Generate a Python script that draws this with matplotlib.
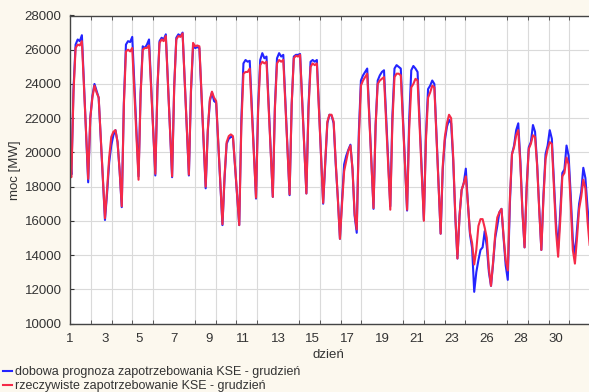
import numpy as np
import matplotlib.pyplot as plt

plt.rcParams['font.family'] = ['Liberation Sans', 'DejaVu Sans']

# godziny pomiarow w ciagu doby (co 3 h)
godziny = [2, 5, 8, 11, 14, 17, 20, 23]

prognoza_start = 19900
rzeczywiste_start = 18700

# dobowa prognoza zapotrzebowania KSE [MW], kolejne dni grudnia
prognoza = [
    [18700, 23700, 26300, 26600, 26500, 26850, 24000, 21100],
    [18250, 22000, 23300, 24000, 23600, 23200, 20800, 18450],
    [16050, 17600, 19400, 20400, 21000, 21300, 20600, 18900],
    [16800, 22900, 26300, 26500, 26450, 26750, 24000, 21300],
    [18600, 23500, 26200, 26100, 26300, 26600, 23950, 21300],
    [18650, 23750, 26500, 26700, 26600, 26900, 24100, 21300],
    [18550, 23850, 26700, 26900, 26800, 27000, 24200, 21400],
    [18650, 23550, 26200, 26100, 26150, 26100, 23350, 20650],
    [17900, 21200, 23000, 23500, 23000, 22900, 20500, 18100],
    [15750, 18500, 20500, 20800, 20900, 20900, 19200, 17450],
    [15750, 21900, 25200, 25400, 25300, 25350, 22650, 20000],
    [17300, 22700, 25400, 25800, 25500, 25600, 22850, 20150],
    [17400, 22700, 25500, 25800, 25600, 25700, 22950, 20250],
    [17500, 22800, 25600, 25700, 25700, 25750, 23050, 20300],
    [17600, 22650, 25300, 25400, 25300, 25400, 22600, 19800],
    [17000, 19400, 21700, 22200, 22150, 21700, 19300, 17300],
    [14950, 17200, 19300, 19800, 20150, 20450, 19000, 16300],
    [15300, 21150, 24200, 24500, 24700, 24900, 22150, 19450],
    [16700, 21600, 24200, 24500, 24700, 24800, 22150, 19500],
    [16850, 22100, 24900, 25100, 25000, 24900, 22150, 19350],
    [16600, 21900, 24800, 25050, 24900, 24700, 21800, 18950],
    [16050, 21000, 23700, 23900, 24200, 24000, 21100, 18150],
    [15250, 19000, 20700, 21500, 21900, 21700, 19500, 16200],
    [13800, 16300, 17800, 18200, 19050, 17000, 15200, 14400],
    [11850, 13000, 13700, 14300, 14450, 15400, 14500, 13000],
    [12200, 13500, 15000, 15700, 16500, 16700, 15000, 13400],
    [12550, 17000, 19900, 20400, 21300, 21700, 19500, 16500],
    [14450, 18000, 20300, 20600, 21600, 21200, 19300, 16700],
    [14300, 17500, 19900, 20400, 21300, 20800, 18300, 15800],
    [14400, 16500, 18800, 19000, 20400, 19800, 17500, 14900],
    [13900, 15500, 17000, 17700, 19100, 18500, 16800, 15500],
]

# rzeczywiste zapotrzebowanie KSE [MW]
rzeczywiste = [
    [18550, 23500, 26100, 26300, 26250, 26500, 23800, 21150],
    [18450, 22000, 23200, 23900, 23500, 23200, 20850, 18500],
    [16150, 17800, 19700, 20900, 21200, 21300, 20600, 18900],
    [16850, 22750, 25900, 26000, 25900, 26100, 23550, 20950],
    [18400, 23400, 26000, 26100, 26100, 26250, 23750, 21250],
    [18750, 23700, 26400, 26600, 26500, 26800, 24050, 21350],
    [18600, 23800, 26600, 26800, 26750, 26950, 24200, 21450],
    [18700, 23700, 26400, 26200, 26250, 26200, 23450, 20750],
    [18000, 21300, 23100, 23550, 23200, 23000, 20600, 18200],
    [15800, 18600, 20600, 20950, 21050, 20950, 19200, 17500],
    [15750, 21550, 24600, 24700, 24700, 24900, 22400, 19850],
    [17350, 22450, 25100, 25300, 25200, 25300, 22650, 20050],
    [17400, 22550, 25200, 25400, 25300, 25400, 22800, 20150],
    [17550, 22800, 25500, 25650, 25600, 25700, 23000, 20300],
    [17600, 22500, 25000, 25200, 25100, 25200, 22500, 19750],
    [17050, 19500, 21800, 22200, 22200, 21800, 19400, 17300],
    [14950, 17000, 18900, 19500, 20100, 20400, 19000, 16400],
    [15500, 20750, 23900, 24200, 24400, 24600, 22000, 19350],
    [16750, 21550, 24000, 24200, 24300, 24400, 21800, 19250],
    [16650, 21750, 24400, 24600, 24600, 24500, 21900, 19250],
    [16650, 21350, 23800, 24000, 24300, 24200, 21450, 18750],
    [16000, 20750, 23200, 23500, 23900, 23800, 20950, 18100],
    [15250, 19200, 20900, 21700, 22200, 22000, 19700, 16300],
    [13800, 16300, 17800, 18200, 18600, 17000, 15300, 14700],
    [13450, 14300, 15700, 16100, 16100, 15600, 15000, 13200],
    [12200, 13600, 15200, 16200, 16500, 16700, 15100, 13700],
    [13100, 17300, 19900, 20300, 21000, 21300, 19300, 16500],
    [14450, 17900, 20200, 20500, 21000, 20900, 19200, 16600],
    [14300, 17300, 19600, 20200, 20600, 20500, 18000, 15400],
    [13900, 16000, 18600, 18800, 19700, 19300, 17000, 14300],
    [13500, 15000, 16700, 17400, 18400, 17900, 16000, 14600],
]

etykiety_dni = ['1', '3', '5', '7', '9', '11', '13', '15', '17', '19',
                '21', '23', '26', '28', '30']

n_dni = len(prognoza)
n_godz = n_dni * 24

x = [0] + [d * 24 + h for d in range(n_dni) for h in godziny]
y_prog = [prognoza_start] + [v for dzien in prognoza for v in dzien]
y_rzecz = [rzeczywiste_start] + [v for dzien in rzeczywiste for v in dzien]

fig = plt.figure(figsize=(5.89, 3.92), dpi=100, facecolor='#fcf8ee')
ax = fig.add_axes([70 / 589, 68.5 / 392, 521 / 589, 308 / 392])
ax.set_facecolor('white')

ax.plot(x, y_prog, color='#2424ff', lw=1.5,
        label='dobowa prognoza zapotrzebowania KSE - grudzień')
ax.plot(x, y_rzecz, color='#f52a48', lw=1.5,
        label='rzeczywiste zapotrzebowanie KSE - grudzień')

ax.set_xlim(0, n_godz + 1)
ax.set_ylim(10000, 28000)
ax.set_yticks(np.arange(10000, 28001, 2000))

# opisy dni i osobna siatka pionowa
ax.set_xticks(np.arange(len(etykiety_dni)) * n_godz / 15, etykiety_dni)
ax.set_xticks(np.linspace(0, n_godz, 26), minor=True)
ax.set_axisbelow(True)
ax.grid(axis='y', color='#dadada', lw=0.8)
ax.grid(axis='x', which='minor', color='#dadada', lw=0.8)

ax.tick_params(axis='x', which='major', length=0, pad=7, labelsize=9.5,
               colors='#333333')
ax.tick_params(axis='x', which='minor', direction='in', length=3,
               top=True, color='#444444')
ax.tick_params(axis='y', direction='in', length=3, pad=6, labelsize=9.5,
               colors='#333333')
for s in ax.spines.values():
    s.set_color('#444444')
    s.set_linewidth(1.0)

ax.set_xlabel('dzień', fontsize=9.5, color='#333333')
ax.xaxis.set_label_coords((328 - 70) / 521, -(349 - 323.5) / 308)
ax.set_ylabel('moc [MW]', fontsize=9.5, color='#333333')
ax.yaxis.set_label_coords(-(70 - 21) / 521, (323.5 - 170) / 308)

fig.legend(loc='upper left', bbox_to_anchor=(3 / 589, 1 - 366.5 / 392),
           frameon=False, fontsize=9, handlelength=0.75, handletextpad=0.2,
           labelspacing=0.15, borderpad=0, borderaxespad=0,
           labelcolor='#333333')

fig.savefig('out.png', dpi=100, facecolor=fig.get_facecolor())
